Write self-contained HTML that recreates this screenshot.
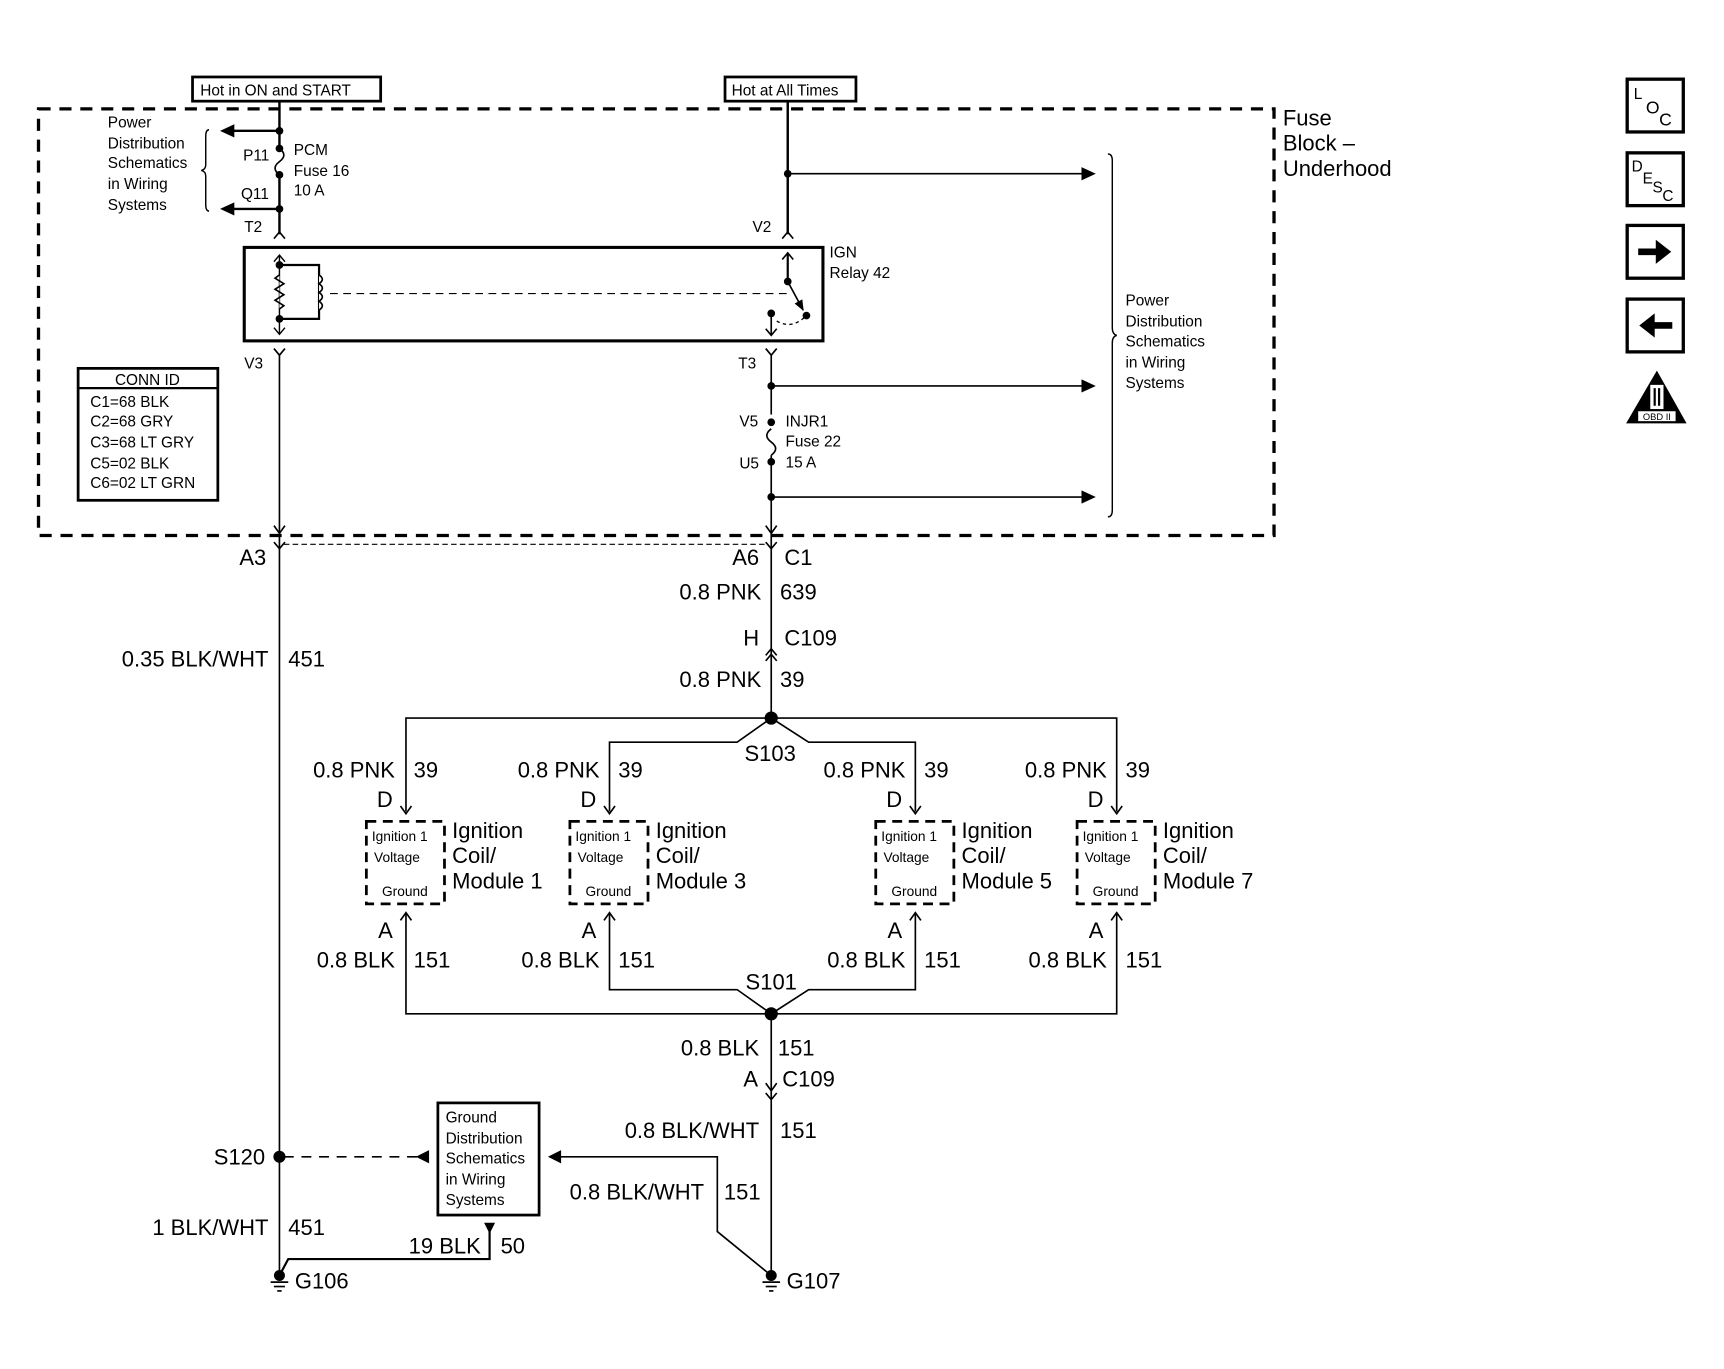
<!DOCTYPE html>
<html><head><meta charset="utf-8"><style>
html,body{margin:0;padding:0;background:#fff;}
svg{display:block;}
text{font-family:"Liberation Sans",sans-serif;fill:#000;}
.s{font-size:14px;}
.m{font-size:20px;}
.t{font-size:12.5px;}
</style></head><body>
<svg width="1724" height="1369" viewBox="0 0 1567 1245" preserveAspectRatio="none" xmlns="http://www.w3.org/2000/svg">
<defs>
<marker id="ah" markerWidth="10" markerHeight="10" refX="9" refY="5" orient="auto" markerUnits="userSpaceOnUse"><path d="M0,1 L10,5 L0,9 z" fill="#000"/></marker>
</defs>
<g stroke="#000" fill="none">
<rect x="175" y="70" width="171" height="22" stroke-width="2.5"/>
<rect x="659" y="70" width="119" height="22" stroke-width="2.5"/>
<rect x="35" y="99" width="1123" height="388" stroke-width="3" stroke-dasharray="11,8"/>
<line x1="254" y1="92" x2="254" y2="135" stroke-width="2.2"/>
<path d="M254,135 q8,6 0,12 q-8,6 0,12" stroke-width="1.5"/>
<line x1="254" y1="159" x2="254" y2="213" stroke-width="2.2"/>
<line x1="254" y1="119" x2="212" y2="119" stroke-width="2.2"/>
<line x1="254" y1="190" x2="212" y2="190" stroke-width="2.2"/>
<path d="M190,118 q-3,0 -3,6 v26 q0,4 -4,5 q4,1 4,5 v26 q0,6 3,6" stroke-width="1.3"/>
<path d="M249,217 L254,211 L259,217" stroke-width="1.5"/>
<rect x="222" y="225" width="526" height="85" stroke-width="2.8"/>
<line x1="254" y1="232" x2="254" y2="304" stroke-width="1.3"/>
<path d="M249,238 L254,232 L259,238 M249,298 L254,304 L259,298" stroke-width="1.3"/>
<path d="M254,250 l-4,3 8,5 -8,5 8,5 -8,5 8,5 -4,3" stroke-width="1.5" fill="#fff"/>
<path d="M254,241 H290 V290 H254" stroke-width="2"/>
<path d="M290,250 q6,4 0,8 q6,4 0,8 q6,4 0,8 q6,4 0,8" stroke-width="1.5" fill="#fff"/>
<line x1="300" y1="267" x2="715" y2="267" stroke-width="1" stroke-dasharray="7,5"/>
<line x1="716" y1="230" x2="716" y2="256" stroke-width="2"/>
<path d="M711,236 L716,230 L721,236" stroke-width="1.5"/>
<line x1="716" y1="256" x2="730" y2="282" stroke-width="1.5" marker-end="url(#ah)"/>
<line x1="701" y1="285" x2="701" y2="305" stroke-width="1.5"/>
<path d="M696,299 L701,305 L706,299" stroke-width="1.5"/>
<path d="M706,292 q14,8 27,-5" stroke-width="1.2" stroke-dasharray="3,3"/>
<path d="M249,317 L254,323 L259,317" stroke-width="1.5"/>
<path d="M696,317 L701,323 L706,317" stroke-width="1.5"/>
<line x1="716" y1="92" x2="716" y2="213" stroke-width="2.2"/>
<path d="M711,217 L716,211 L721,217" stroke-width="1.5"/>
<line x1="716" y1="158" x2="985" y2="158" stroke-width="1.5"/>
<line x1="254" y1="323" x2="254" y2="1160" stroke-width="1.5"/>
<line x1="701" y1="323" x2="701" y2="377" stroke-width="1.5"/>
<path d="M701,390 q-8,6 0,12 q8,6 0,12" stroke-width="1.5"/>
<line x1="701" y1="414" x2="701" y2="653" stroke-width="1.5"/>
<line x1="701" y1="351" x2="985" y2="351" stroke-width="1.5"/>
<line x1="701" y1="452" x2="985" y2="452" stroke-width="1.5"/>
<path d="M249,478 L254,485 L259,478 M696,478 L701,485 L706,478" stroke-width="1.5"/>
<path d="M249,493 L254,499 L259,493 M696,493 L701,499 L706,493" stroke-width="1.5"/>
<line x1="258" y1="495" x2="697" y2="495" stroke-width="1" stroke-dasharray="5,3"/>
<path d="M1007,140 q4,0 4,6 v152 q0,6 4,7 q-4,1 -4,7 v152 q0,6 -4,6" stroke-width="1.3"/>
<rect x="71" y="335" width="127" height="120" stroke-width="2.5"/>
<line x1="71" y1="353" x2="198" y2="353" stroke-width="2"/>
<path d="M696,596 L701,590 L706,596 M696,601 L701,595 L706,601" stroke-width="1.5"/>
<path d="M369,738 V653 H1015 V738" stroke-width="1.5"/>
<path d="M554,738 V675 H670 L701,653 L735,675 H832 V738" stroke-width="1.5"/>
<path d="M364,733 L369,740 L374,733 M549,733 L554,740 L559,733 M827,733 L832,740 L837,733 M1010,733 L1015,740 L1020,733" stroke-width="1.5"/>
<rect x="333" y="747" width="71" height="75" stroke-width="2.5" stroke-dasharray="9,6"/>
<rect x="518" y="747" width="71" height="75" stroke-width="2.5" stroke-dasharray="9,6"/>
<rect x="796" y="747" width="71" height="75" stroke-width="2.5" stroke-dasharray="9,6"/>
<rect x="979" y="747" width="71" height="75" stroke-width="2.5" stroke-dasharray="9,6"/>
<path d="M369,830 V922 H1015 V830" stroke-width="1.5"/>
<path d="M554,830 V900 H670 L701,922 L735,900 H832 V830" stroke-width="1.5"/>
<path d="M364,837 L369,830 L374,837 M549,837 L554,830 L559,837 M827,837 L832,830 L837,837 M1010,837 L1015,830 L1020,837" stroke-width="1.5"/>
<line x1="701" y1="922" x2="701" y2="1160" stroke-width="1.5"/>
<path d="M696,985 L701,992 L706,985 M696,994 L701,1000 L706,994" stroke-width="1.5"/>
<line x1="258" y1="1052" x2="380" y2="1052" stroke-width="1.5" stroke-dasharray="9,7"/>
<rect x="398" y="1003" width="92" height="102" stroke-width="2.5"/>
<path d="M502,1052 H652 V1120 L701,1160" stroke-width="1.5"/>
<path d="M254,1160 L262,1145 H445 V1120" stroke-width="2"/>
</g>
<g fill="#000">
<path d="M200,119 L213,113 L213,125z M200,190 L213,184 L213,196z"/>
<path d="M996,158 L983,152 L983,164z M996,351 L983,345 L983,357z M996,452 L983,446 L983,458z"/>
<circle cx="254" cy="119" r="3.5"/><circle cx="254" cy="135" r="3.5"/><circle cx="254" cy="159" r="3.5"/><circle cx="254" cy="190" r="3.5"/>
<circle cx="716" cy="158" r="3.5"/><circle cx="254" cy="241" r="3.5"/><circle cx="254" cy="290" r="3.5"/>
<circle cx="716" cy="256" r="3.5"/><circle cx="733" cy="287" r="3.5"/><circle cx="701" cy="285" r="3.5"/>
<circle cx="701" cy="351" r="3.5"/><circle cx="701" cy="384" r="3.5"/><circle cx="701" cy="420" r="3.5"/><circle cx="701" cy="452" r="3.5"/>
<circle cx="701" cy="653" r="6"/><circle cx="701" cy="922" r="6"/><circle cx="254" cy="1052" r="5.5"/>
<path d="M378,1052 L390,1046 L390,1058z M498,1052 L510,1046 L510,1058z M445,1122 L440,1112 L450,1112z"/>
<circle cx="254" cy="1160" r="5"/><circle cx="701" cy="1160" r="5"/>
</g>
<g stroke="#000" stroke-width="1.5">
<line x1="246" y1="1166" x2="262" y2="1166"/><line x1="249" y1="1170" x2="259" y2="1170"/><line x1="252" y1="1174" x2="256" y2="1174"/>
<line x1="693" y1="1166" x2="709" y2="1166"/><line x1="696" y1="1170" x2="706" y2="1170"/><line x1="699" y1="1174" x2="703" y2="1174"/>
</g>
<g stroke="#000" stroke-width="3" fill="none">
<rect x="1479" y="72" width="51" height="48"/><rect x="1479" y="139" width="51" height="48"/>
<rect x="1479" y="205" width="51" height="48"/><rect x="1479" y="272" width="51" height="48"/>
</g>
<path d="M1489,226 H1505 V218 L1519,229 L1505,240 V232 H1489z" fill="#000"/>
<path d="M1520,293 H1504 V285 L1490,296 L1504,307 V299 H1520z" fill="#000"/>
<path d="M1506,337 L1533,385 L1478,385z" fill="#000"/>
<rect x="1500" y="350" width="12" height="22" fill="#fff"/><rect x="1503" y="353" width="2" height="16" fill="#000"/><rect x="1507" y="353" width="2" height="16" fill="#000"/>
<rect x="1489" y="374" width="34" height="9" fill="#fff"/>
<text x="1506" y="382" font-size="8.5" text-anchor="middle">OBD II</text>
<text x="1485" y="90" font-size="14">L</text><text x="1496" y="103" font-size="16">O</text><text x="1508" y="114" font-size="16">C</text>
<text x="1483" y="156" font-size="14">D</text><text x="1493" y="167" font-size="14">E</text><text x="1502" y="175" font-size="14">S</text><text x="1511" y="183" font-size="14">C</text>

<g class="s">
<text x="182" y="87">Hot in ON and START</text>
<text x="665" y="87">Hot at All Times</text>
<text x="98" y="116">Power</text><text x="98" y="135">Distribution</text><text x="98" y="153">Schematics</text><text x="98" y="172">in Wiring</text><text x="98" y="191">Systems</text>
<text x="221" y="146">P11</text><text x="219" y="181">Q11</text><text x="222" y="211">T2</text>
<text x="267" y="141">PCM</text><text x="267" y="160">Fuse 16</text><text x="267" y="178">10 A</text>
<text x="684" y="211">V2</text><text x="754" y="234">IGN</text><text x="754" y="253">Relay 42</text>
<text x="222" y="335">V3</text><text x="671" y="335">T3</text>
<text x="672" y="388">V5</text><text x="672" y="426">U5</text>
<text x="714" y="388">INJR1</text><text x="714" y="406">Fuse 22</text><text x="714" y="425">15 A</text>
<text x="1023" y="278">Power</text><text x="1023" y="297">Distribution</text><text x="1023" y="315">Schematics</text><text x="1023" y="334">in Wiring</text><text x="1023" y="353">Systems</text>
<text x="134" y="350" text-anchor="middle">CONN ID</text>
<text x="82" y="370">C1=68 BLK</text><text x="82" y="388">C2=68 GRY</text><text x="82" y="407">C3=68 LT GRY</text><text x="82" y="426">C5=02 BLK</text><text x="82" y="444">C6=02 LT GRN</text>
<text x="405" y="1021">Ground</text><text x="405" y="1040">Distribution</text><text x="405" y="1058">Schematics</text><text x="405" y="1077">in Wiring</text><text x="405" y="1096">Systems</text>
</g>
<g class="m">
<text x="1166" y="114">Fuse</text><text x="1166" y="137">Block –</text><text x="1166" y="160">Underhood</text>
<text x="242" y="514" text-anchor="end">A3</text>
<text x="690" y="514" text-anchor="end">A6</text><text x="713" y="514">C1</text>
<text x="692" y="545" text-anchor="end">0.8 PNK</text><text x="709" y="545">639</text>
<text x="690" y="587" text-anchor="end">H</text><text x="713" y="587">C109</text>
<text x="692" y="625" text-anchor="end">0.8 PNK</text><text x="709" y="625">39</text>
<text x="244" y="606" text-anchor="end">0.35 BLK/WHT</text><text x="262" y="606">451</text>
<text x="700" y="692" text-anchor="middle">S103</text>
<text x="359" y="707" text-anchor="end">0.8 PNK</text><text x="376" y="707">39</text>
<text x="545" y="707" text-anchor="end">0.8 PNK</text><text x="562" y="707">39</text>
<text x="823" y="707" text-anchor="end">0.8 PNK</text><text x="840" y="707">39</text>
<text x="1006" y="707" text-anchor="end">0.8 PNK</text><text x="1023" y="707">39</text>
<text x="357" y="734" text-anchor="end">D</text><text x="542" y="734" text-anchor="end">D</text><text x="820" y="734" text-anchor="end">D</text><text x="1003" y="734" text-anchor="end">D</text>
<text x="411" y="762">Ignition</text><text x="411" y="785">Coil/</text><text x="411" y="808">Module 1</text>
<text x="596" y="762">Ignition</text><text x="596" y="785">Coil/</text><text x="596" y="808">Module 3</text>
<text x="874" y="762">Ignition</text><text x="874" y="785">Coil/</text><text x="874" y="808">Module 5</text>
<text x="1057" y="762">Ignition</text><text x="1057" y="785">Coil/</text><text x="1057" y="808">Module 7</text>
<text x="357" y="853" text-anchor="end">A</text><text x="542" y="853" text-anchor="end">A</text><text x="820" y="853" text-anchor="end">A</text><text x="1003" y="853" text-anchor="end">A</text>
<text x="359" y="880" text-anchor="end">0.8 BLK</text><text x="376" y="880">151</text>
<text x="545" y="880" text-anchor="end">0.8 BLK</text><text x="562" y="880">151</text>
<text x="823" y="880" text-anchor="end">0.8 BLK</text><text x="840" y="880">151</text>
<text x="1006" y="880" text-anchor="end">0.8 BLK</text><text x="1023" y="880">151</text>
<text x="701" y="900" text-anchor="middle">S101</text>
<text x="690" y="960" text-anchor="end">0.8 BLK</text><text x="707" y="960">151</text>
<text x="689" y="988" text-anchor="end">A</text><text x="711" y="988">C109</text>
<text x="690" y="1035" text-anchor="end">0.8 BLK/WHT</text><text x="709" y="1035">151</text>
<text x="241" y="1059" text-anchor="end">S120</text>
<text x="640" y="1091" text-anchor="end">0.8 BLK/WHT</text><text x="658" y="1091">151</text>
<text x="244" y="1123" text-anchor="end">1 BLK/WHT</text><text x="262" y="1123">451</text>
<text x="437" y="1140" text-anchor="end">19 BLK</text><text x="455" y="1140">50</text>
<text x="268" y="1172">G106</text><text x="715" y="1172">G107</text>
</g>
<g class="t">
<text x="338" y="765">Ignition 1</text><text x="340" y="784">Voltage</text><text x="368" y="815" text-anchor="middle">Ground</text>
<text x="523" y="765">Ignition 1</text><text x="525" y="784">Voltage</text><text x="553" y="815" text-anchor="middle">Ground</text>
<text x="801" y="765">Ignition 1</text><text x="803" y="784">Voltage</text><text x="831" y="815" text-anchor="middle">Ground</text>
<text x="984" y="765">Ignition 1</text><text x="986" y="784">Voltage</text><text x="1014" y="815" text-anchor="middle">Ground</text>
</g>
</svg>
</body></html>
